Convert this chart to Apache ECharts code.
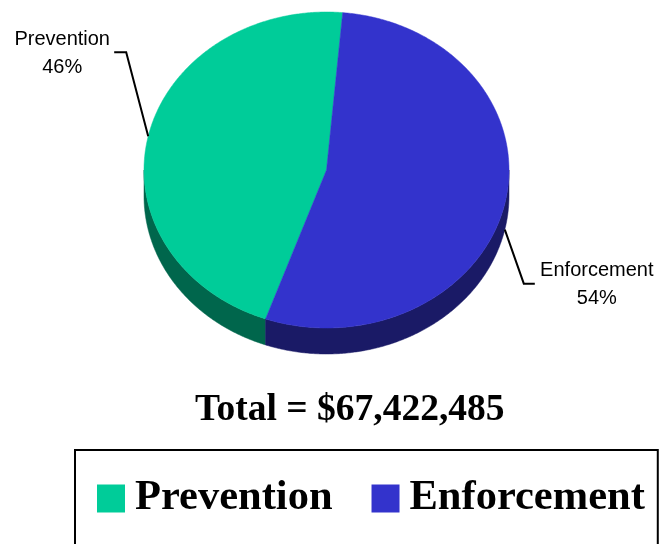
<!DOCTYPE html>
<html>
<head>
<meta charset="utf-8">
<script src="https://cdn.jsdelivr.net/npm/echarts@6/dist/echarts.min.js"></script>
<style>
  html, body { margin: 0; padding: 0; background: #fff; }
  #chart { width: 661px; height: 544px; }
</style>
</head>
<body>
<div id="chart"></div>
<script>
// ---- data ----
const categories = ['Prevention', 'Enforcement'];
const values = [46, 54];
const angleOrder = ['Enforcement', 'Prevention']; // clockwise from the start angle
const totalText = 'Total = $67,422,485';

// ---- style ----
const topColors = ['#00CC99', '#3333CC'];
const sideColors = ['#00664C', '#1A1A66'];
const geom = { cx: 326.5, cy: 170, rx: 182.5, ry: 158, depth: 26, startDeg: -84.9 };
const labelLayout = {
  Prevention: { elbow: [-22, -84], arm: -12, textDx: -52 },
  Enforcement: { elbow: [19, 54], arm: 11, textDx: 62 }
};

const total = values.reduce((a, b) => a + b, 0);
function sliceAngles(name) {
  let a = geom.startDeg * Math.PI / 180;
  for (const n of angleOrder) {
    const v = values[categories.indexOf(n)];
    const span = v / total * Math.PI * 2;
    if (n === name) return [a, a + span];
    a += span;
  }
}
function pt(t, dy) {
  return [geom.cx + geom.rx * Math.cos(t), geom.cy + geom.ry * Math.sin(t) + (dy || 0)];
}
function arc(a0, a1, dy) {
  const n = Math.max(2, Math.ceil(Math.abs(a1 - a0) / (Math.PI / 360)));
  const out = [];
  for (let k = 0; k <= n; k++) out.push(pt(a0 + (a1 - a0) * k / n, dy));
  return out;
}

function makeRender(i) {
  const name = categories[i];
  return function (params, api) {
    const [a0, a1] = sliceAngles(name);
    const children = [];
    // side faces (visible lower half only)
    for (let k = -1; k <= 1; k++) {
      const lo = Math.max(a0, 2 * Math.PI * k);
      const hi = Math.min(a1, Math.PI + 2 * Math.PI * k);
      if (hi > lo) {
        const pts = arc(lo, hi, 0).concat(arc(hi, lo, geom.depth));
        children.push({ type: 'polygon', shape: { points: pts }, style: { fill: sideColors[i], stroke: sideColors[i], lineWidth: 0.5 } });
      }
    }
    // top face
    const topPts = [[geom.cx, geom.cy]].concat(arc(a0, a1, 0));
    children.push({ type: 'polygon', shape: { points: topPts }, style: { fill: topColors[i], stroke: topColors[i], lineWidth: 0.5 } });
    // label + leader line
    const mid = (a0 + a1) / 2;
    const anchor = pt(mid, Math.sin(mid) > 0 ? geom.depth : 0);
    const L = labelLayout[name];
    const elbow = [anchor[0] + L.elbow[0], anchor[1] + L.elbow[1]];
    const end = [elbow[0] + L.arm, elbow[1]];
    children.push({ type: 'polyline', shape: { points: [anchor, elbow, end] }, style: { stroke: '#000', lineWidth: 2, fill: null } });
    const pct = Math.round(api.value(0) / total * 100) + '%';
    children.push({
      type: 'text',
      style: {
        text: name + '\n' + pct, x: end[0] + L.textDx, y: end[1] + 1,
        align: 'center', verticalAlign: 'middle',
        fontSize: 20, fontFamily: '"Liberation Sans", Arial, sans-serif',
        lineHeight: 28, fill: '#000'
      }
    });
    return { type: 'group', children };
  };
}

const chart = echarts.init(document.getElementById('chart'), null, { renderer: 'canvas' });
chart.setOption({
  animation: false,
  backgroundColor: '#fff',
  title: {
    text: totalText, left: 190, top: 386,
    textStyle: { fontFamily: '"Liberation Serif", "Times New Roman", serif', fontWeight: 'bold', fontSize: 37.5, color: '#000' }
  },
  legend: {
    data: categories, left: 75, top: 450, width: 552,
    orient: 'horizontal',
    itemWidth: 28, itemHeight: 28, itemGap: 39,
    icon: 'rect',
    borderColor: '#000', borderWidth: 2,
    padding: [27, 13, 60, 22],
    textStyle: { fontFamily: '"Liberation Serif", "Times New Roman", serif', fontWeight: 'bold', fontSize: 42.5, color: '#000', padding: [0, 0, 0, 5] }
  },
  series: categories.map((name, i) => ({
    type: 'custom', name, coordinateSystem: 'none', silent: true,
    itemStyle: { color: topColors[i] },
    data: [[values[i]]],
    renderItem: makeRender(i)
  }))
});
</script>
</body>
</html>
